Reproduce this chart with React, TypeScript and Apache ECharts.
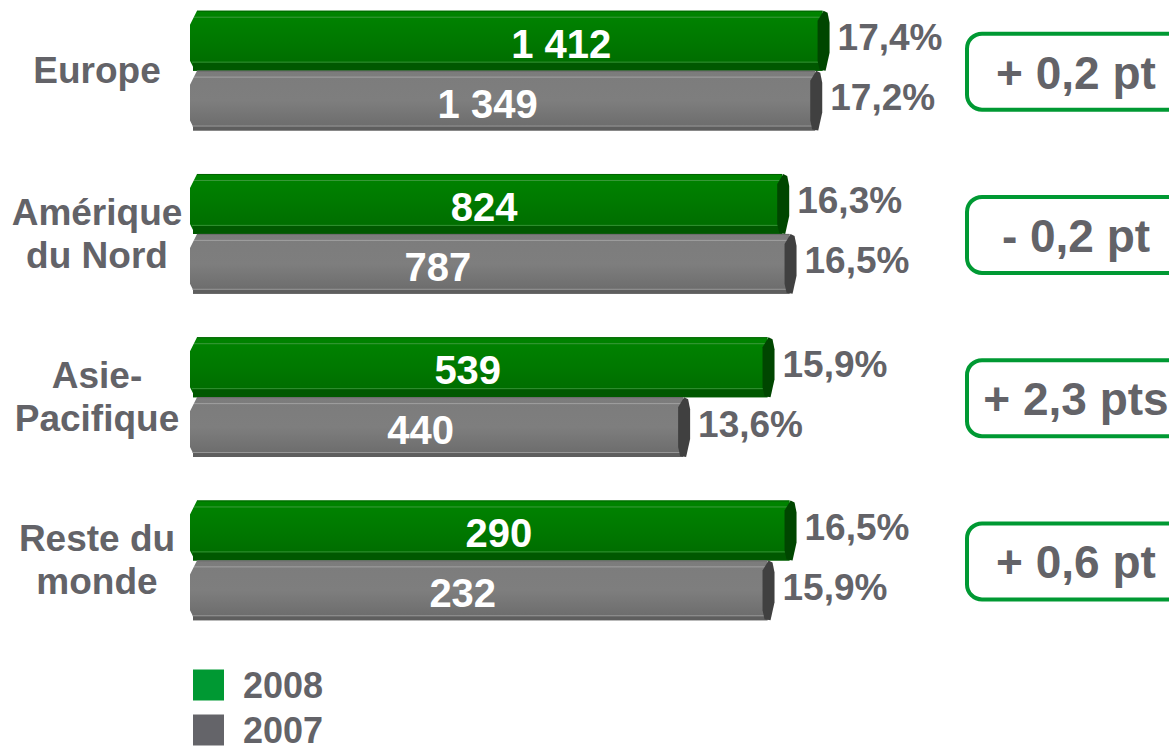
import React, { useEffect, useRef } from "react";
import * as echarts from "echarts";

// ---- data ----
const categories = ["Europe", "Amérique\ndu Nord", "Asie-\nPacifique", "Reste du\nmonde"];
const share2008 = [17.4, 16.3, 15.9, 16.5];
const share2007 = [17.2, 16.5, 13.6, 15.9];
const sales2008 = [1412, 824, 539, 290];
const sales2007 = [1349, 787, 440, 232];
const deltas = ["+ 0,2 pt", "- 0,2 pt", "+ 2,3 pts", "+ 0,6 pt"];
const years = ["2008", "2007"];

// ---- layout tweaks (label nudges in px) ----
const nudge2008 = [52, -5, -14, 6];
const nudge2007 = [-18, -55, -19, -19];

// the chart canvas starts SHIFT px above the page top
const SHIFT = 11;

const FONT = '"Liberation Sans", Arial, Helvetica, sans-serif';
const GREY_TEXT = "#636368";

const fmtSales = (v: number) => String(v).replace(/\B(?=(\d{3})+(?!\d))/g, " ");
const fmtPct = (v: number) => v.toFixed(1).replace(".", ",") + "%";

type Palette = {
  top: string;
  mid: string;
  bottom: string;
  rim: string;
  light: string;
  shelf: string;
  cap: string;
  shelfH: number;
};

const greenPal: Palette = {
  top: "#008400",
  mid: "#007800",
  bottom: "#006a00",
  rim: "#006400",
  light: "#4aa04a",
  shelf: "#005800",
  cap: "#004600",
  shelfH: 8,
};
const greyPal: Palette = {
  top: "#7c7c7c",
  mid: "#7e7e7e",
  bottom: "#6a6a6a",
  rim: "#6a6a6a",
  light: "#aaaaaa",
  shelf: "#5e5e5e",
  cap: "#404040",
  shelfH: 4,
};

function makeBarRender(pal: Palette, isTop: boolean, salesArr: number[], nudges: number[]) {
  return (params: any, api: any) => {
    const cat = api.value(1);
    const v = api.value(0);
    const idx = params.dataIndex;
    const c0 = api.coord([0, cat]);
    const c1 = api.coord([v, cat]);
    const band = api.size([0, 1])[1];
    const h = band * 0.367;
    const cy = c0[1];
    const yt = isTop ? cy - h : cy;
    const yb = yt + h;
    const x0 = c0[0];
    const x1 = c1[0];
    const xb = x1 - 6;
    const mid = (yt + yb) / 2;
    return {
      type: "group",
      children: [
        {
          type: "polygon",
          shape: {
            points: [
              [x0 + 7, yt],
              [xb, yt],
              [xb, yb],
              [x0 + 3, yb],
              [x0 + 3, yb - 4],
              [x0, yb - 10],
              [x0, yt + 14],
            ],
          },
          style: {
            fill: new echarts.graphic.LinearGradient(0, 0, 0, 1, [
              { offset: 0, color: pal.top },
              { offset: 0.5, color: pal.mid },
              { offset: 1, color: pal.bottom },
            ]),
          },
        },
        {
          type: "rect",
          shape: { x: x0 + 3, y: yb - pal.shelfH, width: xb - x0 - 3, height: pal.shelfH },
          style: { fill: pal.shelf },
        },
        {
          type: "line",
          shape: { x1: x0 + 7, y1: yt + 0.5, x2: xb, y2: yt + 0.5 },
          style: { stroke: pal.rim, lineWidth: 1 },
        },
        {
          type: "line",
          shape: { x1: x0 + 4, y1: yt + 6.5, x2: xb, y2: yt + 6.5 },
          style: { stroke: pal.light, lineWidth: 1, opacity: 0.8 },
        },
        {
          type: "line",
          shape: { x1: x0 + 2, y1: yb - pal.shelfH - 0.5, x2: xb, y2: yb - pal.shelfH - 0.5 },
          style: { stroke: pal.light, lineWidth: 1, opacity: 0.7 },
        },
        {
          type: "polygon",
          shape: {
            points: [
              [x1 - 11, yt + 10],
              [x1 - 5, yt],
              [x1 - 1, yt + 2],
              [x1 + 1, yt + 12],
              [x1 + 1, yb - 18],
              [x1 - 3, yb],
              [x1 - 9, yb - 1],
              [x1 - 11, yb - 10],
            ],
          },
          style: { fill: pal.cap },
        },
        {
          type: "text",
          style: {
            text: fmtSales(salesArr[idx]),
            x: (x0 + x1) / 2 + nudges[idx],
            y: mid + 3,
            align: "center",
            verticalAlign: "middle",
            fill: "#ffffff",
            fontSize: 40,
            fontWeight: "bold",
            fontFamily: FONT,
          },
        },
        {
          type: "text",
          style: {
            text: fmtPct(v),
            x: x1 + 9,
            y: mid - 3,
            align: "left",
            verticalAlign: "middle",
            fill: GREY_TEXT,
            fontSize: 37,
            fontWeight: "bold",
            fontFamily: FONT,
          },
        },
      ],
    };
  };
}

function deltaRender(params: any, api: any) {
  const cat = api.value(1);
  const c = api.coord([0, cat]);
  const cy = c[1] + 1;
  const bx = 967;
  const bw = 218;
  const bh = 76;
  return {
    type: "group",
    children: [
      {
        type: "rect",
        shape: { x: bx, y: cy - bh / 2, width: bw, height: bh, r: 15 },
        style: { fill: "#ffffff", stroke: "#009933", lineWidth: 4 },
      },
      {
        type: "text",
        style: {
          text: deltas[params.dataIndex],
          x: bx + 109,
          y: cy + 1,
          align: "center",
          verticalAlign: "middle",
          fill: GREY_TEXT,
          fontSize: 46,
          fontWeight: "bold",
          fontFamily: FONT,
        },
      },
    ],
  };
}

export default function App() {
  const ref = useRef<HTMLDivElement>(null);
  useEffect(() => {
    if (!ref.current) return;
    const chart = echarts.init(ref.current, undefined, { renderer: "svg" });
    const option: any = {
      animation: false,
      backgroundColor: "#ffffff",
      grid: { left: 190, width: 734, top: 0, height: 653, containLabel: false },
      xAxis: { type: "value", min: 0, max: 20, show: false },
      yAxis: {
        type: "category",
        inverse: true,
        data: categories,
        axisLine: { show: false },
        axisTick: { show: false },
        splitLine: { show: false },
        axisLabel: {
          align: "center",
          margin: 93,
          fontSize: 37,
          lineHeight: 43,
          fontWeight: "bold",
          fontFamily: FONT,
          color: GREY_TEXT,
        },
      },
      legend: {
        data: years,
        orient: "vertical",
        left: 193,
        top: 667 + SHIFT,
        height: 120,
        padding: 0,
        itemWidth: 31,
        itemHeight: 31,
        itemGap: 9,
        icon: "rect",
        selectedMode: false,
        textStyle: {
          fontSize: 36,
          lineHeight: 31,
          fontWeight: "bold",
          fontFamily: FONT,
          color: GREY_TEXT,
          padding: [0, 0, 0, 14],
        },
      },
      series: [
        {
          name: "2008",
          type: "custom",
          clip: false,
          itemStyle: { color: "#009933" },
          encode: { x: 0, y: 1 },
          data: share2008.map((v, i) => [v, i]),
          renderItem: makeBarRender(greenPal, true, sales2008, nudge2008),
        },
        {
          name: "2007",
          type: "custom",
          clip: false,
          itemStyle: { color: "#646469" },
          encode: { x: 0, y: 1 },
          data: share2007.map((v, i) => [v, i]),
          renderItem: makeBarRender(greyPal, false, sales2007, nudge2007),
        },
        {
          name: "delta",
          type: "custom",
          clip: false,
          encode: { x: 0, y: 1 },
          data: deltas.map((_, i) => [0, i]),
          renderItem: deltaRender,
        },
      ],
    };
    chart.setOption(option);
    return () => chart.dispose();
  }, []);
  return (
    <div style={{ position: "fixed", left: 0, top: 0, width: 1169, height: 752, overflow: "hidden", background: "#fff" }}>
      <div
        ref={ref}
        style={{ position: "absolute", left: 0, top: -SHIFT, width: 1169, height: 752 + SHIFT }}
      />
    </div>
  );
}
